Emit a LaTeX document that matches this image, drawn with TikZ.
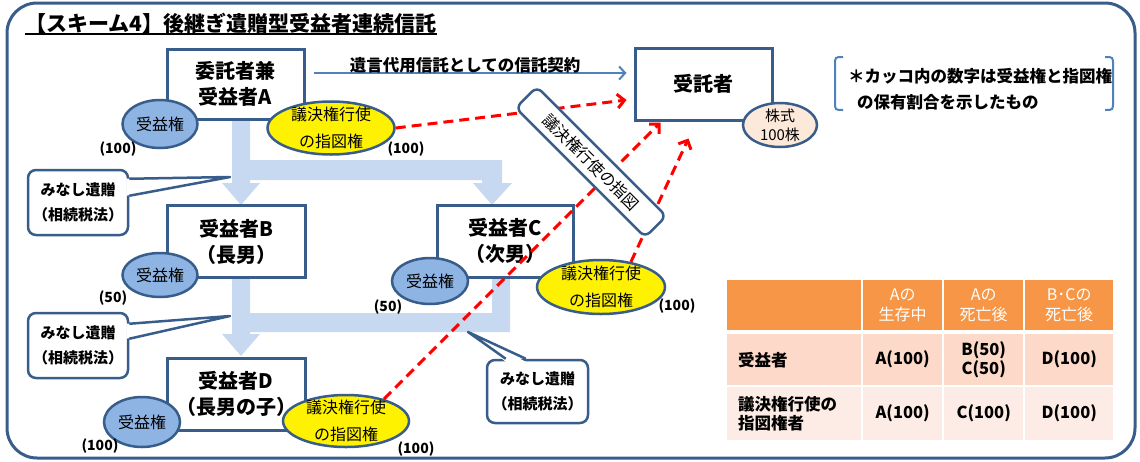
\documentclass[tikz,border=0pt]{standalone}
\usepackage{fontspec}
\setmainfont{Noto Sans CJK JP}
\usetikzlibrary{arrows.meta,calc,shapes.geometric}
\definecolor{dkblue}{RGB}{56,93,138}
\definecolor{midblue}{RGB}{79,129,189}
\definecolor{ltblue}{RGB}{198,217,241}
\definecolor{ellblue}{RGB}{142,180,227}
\definecolor{peach}{RGB}{253,233,217}
\definecolor{hdr}{RGB}{247,150,70}
\definecolor{rowA}{RGB}{252,217,201}
\definecolor{rowB}{RGB}{253,236,229}
\newcommand{\fsz}[2]{\fontsize{#1}{#2}\selectfont}
\begin{document}
\begin{tikzpicture}[x=1pt,y=-1pt,
  box/.style={draw=dkblue,line width=3pt,fill=white,inner sep=0pt,align=center,font=\fsz{20}{26}\bfseries},
  ebl/.style={ellipse,draw=dkblue,line width=2.5pt,fill=ellblue,inner sep=-4pt,align=center,font=\fsz{16}{20}},
  eyl/.style={ellipse,draw=dkblue,line width=2.5pt,fill=yellow,inner sep=-4pt,align=center,font=\fsz{16}{27}},
  pct/.style={font=\fsz{14}{16}\bfseries,inner sep=0pt},
  callbox/.style={draw=dkblue,line width=2.5pt,fill=white,rounded corners=8pt,minimum width=100pt,minimum height=65pt,align=center,font=\fsz{15}{25}\bfseries,inner sep=0pt},
  tailline/.style={draw=dkblue,line width=2.5pt,line join=round},
  band/.style={fill=ltblue},
  reddash/.style={draw=red,line width=3pt,dash pattern=on 10pt off 6pt,-{Straight Barb[length=7pt,width=14pt]}},
  cell/.style={inner sep=0pt,align=center,anchor=north west},
]
\useasboundingbox (0,0) rectangle (1140,461);
% frame
\draw[dkblue,line width=3pt,rounded corners=30pt] (7,3) rectangle (1135,458);
% title
\node[anchor=base west,inner sep=0pt,font=\fsz{21}{24}\bfseries] (title) at (25,31) {【スキーム4】後継ぎ遺贈型受益者連続信託};
\draw[line width=1.5pt] ([yshift=-3pt]title.base west) -- ([yshift=-3pt]title.base east);
% thick flow arrows
\fill[band] (232,119) -- (250,119) -- (250,160) -- (502,160) -- (502,183) -- (512,183) -- (492,205) -- (473,183) -- (482,183) -- (482,180) -- (250,180) -- (250,183) -- (260,183) -- (241,205) -- (222,183) -- (232,183) -- cycle;
\fill[band] (232,276) -- (250,276) -- (250,313) -- (492,313) -- (492,275) -- (510,275) -- (510,332) -- (250,332) -- (250,334) -- (260,334) -- (241,356) -- (222,334) -- (232,334) -- cycle;
% boxes
\node[box,minimum width=137pt,minimum height=70pt] (A) at (235.5,84) {委託者兼\\受益者A};
\node[box,minimum width=137pt,minimum height=72pt] (T) at (703.5,84) {受託者};
\node[box,minimum width=138pt,minimum height=72pt] (B) at (236,241.5) {受益者B\\（長男）};
\node[box,minimum width=136pt,minimum height=72pt] (C) at (505,241) {受益者C\\（次男）};
\node[box,minimum width=138pt,minimum height=72pt] (D) at (236,394) {受益者D\\（長男の子）};
% ellipses
\node[ebl,minimum width=75pt,minimum height=48pt] (eA) at (160,124) {受益権};
\node[eyl,minimum width=127pt,minimum height=53pt] (yA) at (331,128) {議決権行使\\の指図権};
\node[ebl,minimum width=75pt,minimum height=44pt] (eB) at (160,275) {受益権};
\node[ebl,minimum width=76pt,minimum height=46pt] (eC) at (430,281) {受益権};
\node[eyl,minimum width=128pt,minimum height=54pt] (yC) at (601,287) {議決権行使\\の指図権};
\node[ebl,minimum width=76pt,minimum height=50pt] (eD) at (142,422) {受益権};
\node[eyl,minimum width=126pt,minimum height=52pt] (yD) at (346,421) {議決権行使\\の指図権};
\node[ellipse,draw=dkblue,line width=2.5pt,fill=peach,inner sep=-4pt,align=center,font=\fsz{15}{19},minimum width=74pt,minimum height=44pt] (S) at (780,125) {株式\\100株};
% percentages
\node[pct] (pA1) at (118,149) {(100)};
\node[pct] (pA2) at (406,149) {(100)};
\node[pct] (pB1) at (113,298) {(50)};
\node[pct] (pC1) at (388,307) {(50)};
\node[pct] (pC2) at (677,306) {(100)};
\node[pct] (pD1) at (100,446) {(100)};
\node[pct] (pD2) at (416,449) {(100)};
% callouts
\node[callbox] (m1) at (78,202.5) {みなし遺贈\\（相続税法）};
\coordinate (m1t) at (230,177);
\fill[white] ([shift={(-3,10)}]m1.north east) -- (m1t) -- ([shift={(-3,27)}]m1.north east) -- cycle;
\draw[tailline] ([shift={(0,10)}]m1.north east) -- (m1t) -- ([shift={(0,27)}]m1.north east);
\node[callbox] (m2) at (78,345.5) {みなし遺贈\\（相続税法）};
\coordinate (m2t) at (230,316);
\fill[white] ([shift={(-3,12)}]m2.north east) -- (m2t) -- ([shift={(-3,27)}]m2.north east) -- cycle;
\draw[tailline] ([shift={(0,12)}]m2.north east) -- (m2t) -- ([shift={(0,27)}]m2.north east);
\node[callbox,minimum width=101pt,minimum height=63pt] (m3) at (537.5,391.5) {みなし遺贈\\（相続税法）};
\coordinate (m3t) at (468,332);
\fill[white] ([shift={(20,3)}]m3.north west) -- (m3t) -- ([shift={(40,3)}]m3.north west) -- cycle;
\draw[tailline] ([shift={(20,0)}]m3.north west) -- (m3t) -- ([shift={(40,0)}]m3.north west);
% trust contract arrow
\draw[midblue,line width=2pt,-{Straight Barb[length=6pt,width=13pt]}] ([shift={(8,-11)}]A.east) -- ([shift={(-7,-11)}]T.west);
\node[font=\fsz{16.5}{18}\bfseries,inner sep=0pt] (lbl) at (465,65) {遺言代用信託としての信託契約};
% red dashed instruction arrows
\draw[reddash] (yA.east) -- ([shift={(-7,16)}]T.west);
\draw[reddash] (yD.30) -- ([shift={(-43,1)}]T.south);
\draw[reddash] (yC.40) -- ([shift={(-15,17)}]T.south);
% rotated label box
\node[draw=dkblue,line width=2.5pt,fill=white,rounded corners=7pt,minimum width=183pt,minimum height=30pt,rotate=-45,font=\fsz{16}{18},inner sep=0pt] (vb) at (591,162) {議決権行使の指図};
% note
\draw[midblue,line width=2pt] (843,57) .. controls (835,57) .. (835,65) -- (835,102) .. controls (835,110) .. (843,110);
\draw[midblue,line width=2pt] (1105,57) .. controls (1113,57) .. (1113,65) -- (1113,102) .. controls (1113,110) .. (1105,110);
\node[anchor=west,inner sep=0pt,font=\fsz{16.5}{18}\bfseries] (n1) at (848,76) {＊カッコ内の数字は受益権と指図権};
\node[anchor=west,inner sep=0pt,font=\fsz{16.5}{18}\bfseries] (n2) at (857,102) {の保有割合を示したもの};
% table
\node[cell,fill=hdr,minimum width=134pt,minimum height=50pt] (h0) at (727,280) {};
\node[cell,fill=hdr,text=white,text width=79pt,minimum height=50pt,font=\fsz{16}{20}] (h1) at (863,280) {Aの\\生存中};
\node[cell,fill=hdr,text=white,text width=79pt,minimum height=50pt,font=\fsz{16}{20}] (h2) at (944,280) {Aの\\死亡後};
\node[cell,fill=hdr,text=white,text width=88pt,minimum height=50pt,font=\fsz{16}{20}] (h3) at (1025,280) {B･Cの\\死亡後};
\node[cell,fill=rowA,align=left,text width=112pt,inner xsep=11pt,minimum height=51pt,font=\fsz{16.5}{19}\bfseries] (a0) at (727,334) {受益者};
\node[cell,fill=rowA,text width=79pt,minimum height=51pt,font=\fsz{16.5}{19}\bfseries] (a1) at (863,334) {A(100)};
\node[cell,fill=rowA,text width=79pt,minimum height=51pt,font=\fsz{16.5}{19}\bfseries] (a2) at (944,334) {B(50)\\C(50)};
\node[cell,fill=rowA,text width=88pt,minimum height=51pt,font=\fsz{16.5}{19}\bfseries] (a3) at (1025,334) {D(100)};
\node[cell,fill=rowB,align=left,text width=112pt,inner xsep=11pt,minimum height=53pt,font=\fsz{16.5}{19}\bfseries] (b0) at (727,387) {議決権行使の\\指図権者};
\node[cell,fill=rowB,text width=79pt,minimum height=53pt,font=\fsz{16.5}{19}\bfseries] (b1) at (863,387) {A(100)};
\node[cell,fill=rowB,text width=79pt,minimum height=53pt,font=\fsz{16.5}{19}\bfseries] (b2) at (944,387) {C(100)};
\node[cell,fill=rowB,text width=88pt,minimum height=53pt,font=\fsz{16.5}{19}\bfseries] (b3) at (1025,387) {D(100)};
\end{tikzpicture}
\end{document}
